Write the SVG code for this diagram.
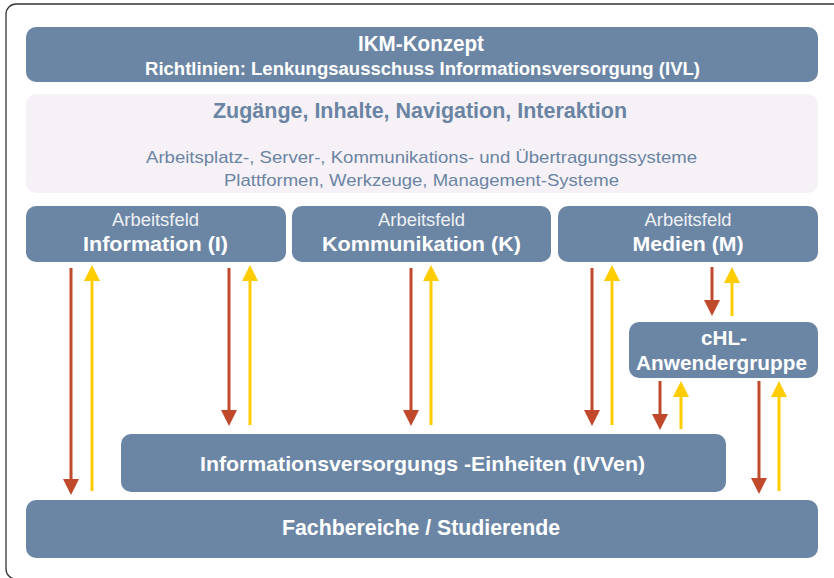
<svg xmlns="http://www.w3.org/2000/svg" width="834" height="578" viewBox="0 0 834 578">
<defs>
<style>
.box{fill:#6b86a5;}
.pale{fill:#f6f1f6;}
.t{font-family:"Liberation Sans",Arial,sans-serif;text-anchor:middle;}
.w{fill:#ffffff;font-weight:bold;}
.lt{fill:#edf0f4;font-weight:normal;}
.bl{fill:#6a84a3;}
.dn{stroke:#c0492c;stroke-width:3;fill:none;marker-end:url(#hr);}
.up{stroke:#ffcc00;stroke-width:3;fill:none;marker-end:url(#hy);}
</style>
<marker id="hr" markerUnits="userSpaceOnUse" markerWidth="16" markerHeight="16" refX="2" refY="8" orient="auto" viewBox="0 0 16 16"><path d="M0,0 L16,8 L0,16 Z" fill="#c0492c"/></marker>
<marker id="hy" markerUnits="userSpaceOnUse" markerWidth="16" markerHeight="16" refX="2" refY="8" orient="auto" viewBox="0 0 16 16"><path d="M0,0 L16,8 L0,16 Z" fill="#ffcc00"/></marker>
</defs>
<rect x="6" y="4" width="845" height="575" rx="10" fill="#ffffff" stroke="#333333" stroke-width="1.3"/>

<g id="ikm">
<rect class="box" x="26" y="27" width="792" height="55" rx="10"/>
<text class="t w" x="421" y="51" font-size="21.5" textLength="126" lengthAdjust="spacingAndGlyphs">IKM-Konzept</text>
<text class="t w" x="422.5" y="75" font-size="18" textLength="555" lengthAdjust="spacingAndGlyphs">Richtlinien: Lenkungsausschuss Informationsversorgung (IVL)</text>
</g>

<g id="zugaenge">
<rect class="pale" x="26" y="94" width="792" height="99" rx="10"/>
<text class="t bl" x="420" y="118" font-size="22" font-weight="bold" textLength="414" lengthAdjust="spacingAndGlyphs">Zugänge, Inhalte, Navigation, Interaktion</text>
<text class="t bl" x="421.5" y="163" font-size="17" textLength="551" lengthAdjust="spacingAndGlyphs">Arbeitsplatz-, Server-, Kommunikations- und Übertragungssysteme</text>
<text class="t bl" x="421.5" y="186" font-size="17" textLength="395" lengthAdjust="spacingAndGlyphs">Plattformen, Werkzeuge, Management-Systeme</text>
</g>

<g id="information">
<rect class="box" x="26" y="206" width="260" height="56" rx="10"/>
<text class="t lt" x="155.5" y="226" font-size="18" textLength="87" lengthAdjust="spacingAndGlyphs">Arbeitsfeld</text>
<text class="t w" x="155.5" y="251" font-size="21" textLength="145" lengthAdjust="spacingAndGlyphs">Information (I)</text>
</g>

<g id="kommunikation">
<rect class="box" x="292" y="206" width="259" height="56" rx="10"/>
<text class="t lt" x="421.5" y="226" font-size="18" textLength="87" lengthAdjust="spacingAndGlyphs">Arbeitsfeld</text>
<text class="t w" x="421.5" y="251" font-size="21" textLength="199" lengthAdjust="spacingAndGlyphs">Kommunikation (K)</text>
</g>

<g id="medien">
<rect class="box" x="558" y="206" width="260" height="56" rx="10"/>
<text class="t lt" x="688" y="226" font-size="18" textLength="87" lengthAdjust="spacingAndGlyphs">Arbeitsfeld</text>
<text class="t w" x="688" y="251" font-size="21" textLength="111" lengthAdjust="spacingAndGlyphs">Medien (M)</text>
</g>

<g id="chl">
<rect class="box" x="629" y="322" width="189" height="56" rx="10"/>
<text class="t w" x="724" y="345" font-size="21" textLength="46" lengthAdjust="spacingAndGlyphs">cHL-</text>
<text class="t w" x="721.5" y="370" font-size="21" textLength="171" lengthAdjust="spacingAndGlyphs">Anwendergruppe</text>
</g>

<g id="ivven">
<rect class="box" x="121" y="434" width="605" height="58" rx="10"/>
<text class="t w" x="422.5" y="471" font-size="21" textLength="445" lengthAdjust="spacingAndGlyphs">Informationsversorgungs -Einheiten (IVVen)</text>
</g>

<g id="fachbereiche">
<rect class="box" x="26" y="500" width="792" height="58" rx="10"/>
<text class="t w" x="421" y="535" font-size="21.5" textLength="278" lengthAdjust="spacingAndGlyphs">Fachbereiche  / Studierende</text>
</g>

<g id="connectors">
<line class="dn" x1="71" y1="268" x2="71" y2="481"/>
<line class="up" x1="92" y1="491" x2="92" y2="279"/>
<line class="dn" x1="229" y1="268" x2="229" y2="412"/>
<line class="up" x1="250" y1="425" x2="250" y2="279"/>
<line class="dn" x1="411" y1="268" x2="411" y2="412"/>
<line class="up" x1="431" y1="425" x2="431" y2="279"/>
<line class="dn" x1="592" y1="268" x2="592" y2="412"/>
<line class="up" x1="612" y1="425" x2="612" y2="279"/>
<line class="dn" x1="712" y1="267" x2="712" y2="302"/>
<line class="up" x1="732" y1="316" x2="732" y2="281"/>
<line class="dn" x1="660" y1="381" x2="660" y2="416"/>
<line class="up" x1="681" y1="429" x2="681" y2="395"/>
<line class="dn" x1="759" y1="381" x2="759" y2="480"/>
<line class="up" x1="779" y1="491" x2="779" y2="395"/>
</g>
</svg>
